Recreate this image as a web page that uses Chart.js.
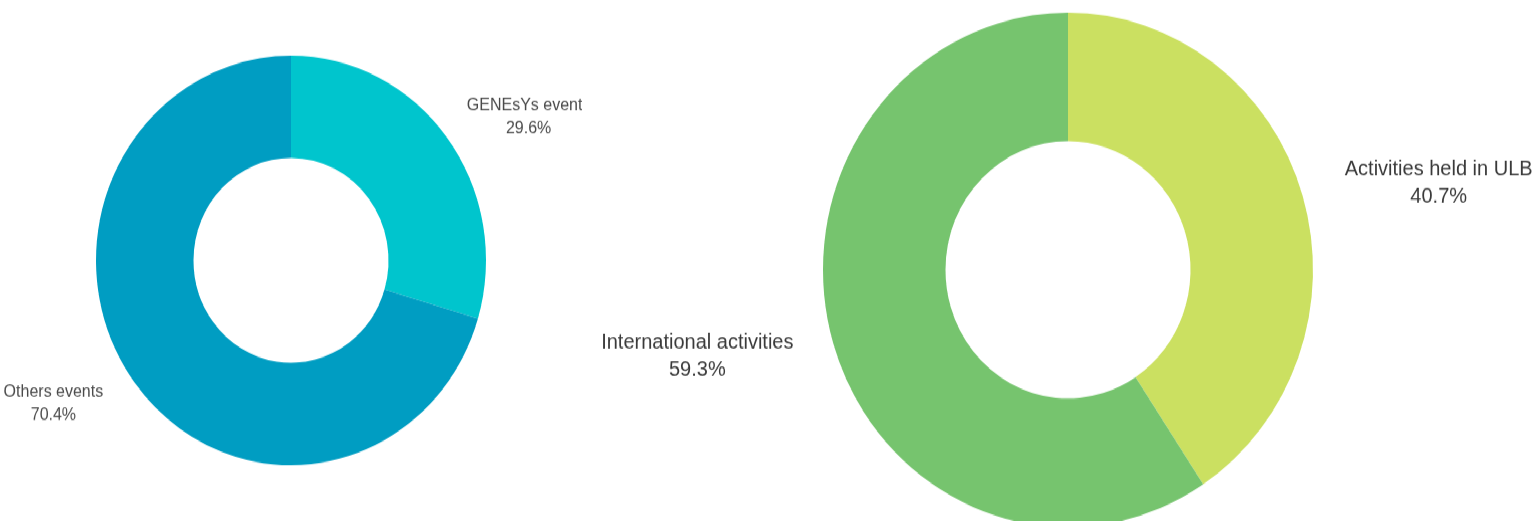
<!DOCTYPE html>
<html>
<head>
<meta charset="utf-8">
<script src="https://cdn.jsdelivr.net/npm/chart.js@4"></script>
<style>
  html, body { margin: 0; padding: 0; background: #ffffff; overflow: hidden; }
  #stage { position: absolute; left: 0; top: 0; width: 1540px; height: 496px; transform: scaleY(1.05); transform-origin: 0 0; }
  #leftBox { position: absolute; left: 0; top: 0; width: 582px; height: 496px; }
  #rightBox { position: absolute; left: 582px; top: 0; width: 958px; height: 496px; }
</style>
</head>
<body>
<div id="stage">
  <div id="leftBox"><canvas id="left"></canvas></div>
  <div id="rightBox"><canvas id="right"></canvas></div>
</div>
<script>
// ---- Data ----
const leftLabels = ['GENEsYs events', 'Others events'];
const leftValues = [29.6, 70.4];
const leftColors = ['#00c5cd', '#009dc2'];

const rightLabels = ['Activities held in ULB', 'International activities'];
const rightValues = [40.7, 59.3];
const rightColors = ['#cbe061', '#76c46e'];

// ---- Outside label plugin ----
const outsideLabels = {
  id: 'outsideLabels',
  afterDraw(chart, args, opts) {
    const ctx = chart.ctx;
    const meta = chart.getDatasetMeta(0);
    const data = chart.data.datasets[0].data;
    const total = data.reduce((a, b) => a + b, 0);
    ctx.save();
    ctx.fillStyle = opts.color;
    ctx.font = opts.fontSize + 'px "Liberation Sans", Arial, sans-serif';
    ctx.textAlign = 'center';
    ctx.textBaseline = 'middle';
    meta.data.forEach((arc, i) => {
      const p = arc.getProps(['x', 'y', 'startAngle', 'endAngle', 'outerRadius'], true);
      const mid = (p.startAngle + p.endAngle) / 2;
      const lx = p.x + Math.cos(mid) * p.outerRadius * opts.kx;
      const ly = p.y + Math.sin(mid) * p.outerRadius * opts.ky;
      const pct = (data[i] / total * 100).toFixed(1) + '%';
      ctx.fillText(chart.data.labels[i], lx, ly - opts.lineHeight / 2);
      ctx.fillText(pct, lx, ly + opts.lineHeight / 2);
    });
    ctx.restore();
  }
};

function makeDoughnut(id, labels, values, colors, radius, padding, labelOpts) {
  return new Chart(document.getElementById(id), {
    type: 'doughnut',
    data: {
      labels: labels,
      datasets: [{
        data: values,
        backgroundColor: colors,
        borderWidth: 0,
        radius: radius,
        cutout: '50%'
      }]
    },
    options: {
      responsive: true,
      maintainAspectRatio: false,
      animation: false,
      events: [],
      layout: { padding: padding },
      plugins: {
        legend: { display: false },
        tooltip: { enabled: false },
        outsideLabels: labelOpts
      }
    },
    plugins: [outsideLabels]
  });
}

makeDoughnut('left', leftLabels, leftValues, leftColors, 195,
  { top: 0, left: 0, right: 0, bottom: 0 },
  { kx: 1.52, ky: 1.17, fontSize: 16, lineHeight: 22, color: '#4a4a4a' });

makeDoughnut('right', rightLabels, rightValues, rightColors, 245,
  { top: 18, left: 14, right: 0, bottom: 0 },
  { kx: 1.58, ky: 1.17, fontSize: 20, lineHeight: 26, color: '#3a3a3a' });
</script>
</body>
</html>
